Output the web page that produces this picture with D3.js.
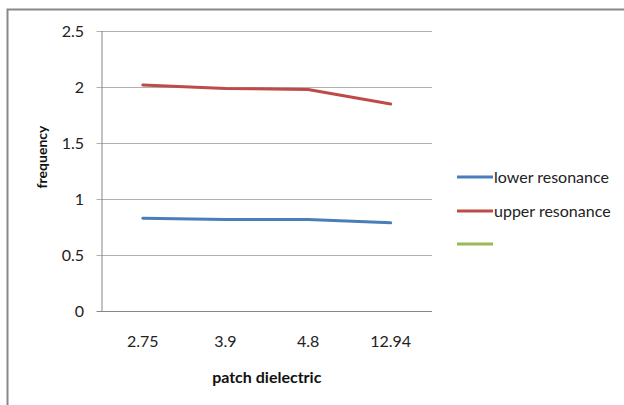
<!DOCTYPE html>
<html><head><meta charset="utf-8">
<script src="https://cdn.jsdelivr.net/npm/d3@7"></script>
<style>body{margin:0;background:#fff}svg{display:block}text{font-family:Lato,"Open Sans",sans-serif}</style>
</head><body>
<svg id="c" width="624" height="405"></svg>
<script>
const categories = ["2.75", "3.9", "4.8", "12.94"];
const lowerResonance = [0.83, 0.82, 0.82, 0.79];
const upperResonance = [2.02, 1.99, 1.98, 1.85];
const yTicks = [0, 0.5, 1, 1.5, 2, 2.5];
const seriesNames = ["lower resonance", "upper resonance", ""];
const seriesColors = ["#4A7EBB", "#BE4B48", "#98B954"];

const svg = d3.select("#c");
// outer chart frame
svg.append("path").attr("d", "M7.5,405 V9.5 H624").attr("fill", "none").attr("stroke", "#888").attr("stroke-width", 2);

const pLeft = 101.5, pRight = 432, pTop = 31.3, pBottom = 311.3;
const x = d3.scaleBand().domain(categories).range([pLeft, pRight]);
const y = d3.scaleLinear().domain([0, 2.5]).range([pBottom, pTop]);

// gridlines
svg.append("g").selectAll("line").data(yTicks).join("line")
  .attr("x1", pLeft - 5).attr("x2", pRight)
  .attr("y1", d => Math.round(y(d)) + 0.5).attr("y2", d => Math.round(y(d)) + 0.5)
  .attr("stroke", d => d === 0 ? "#868686" : "#b0b0b0").attr("stroke-width", 1);
// y axis line
svg.append("line").attr("x1", pLeft + 0.5).attr("x2", pLeft + 0.5)
  .attr("y1", Math.round(pTop)).attr("y2", Math.round(pBottom) + 0.5).attr("stroke", "#868686");

// y labels
svg.append("g").selectAll("text").data(yTicks).join("text")
  .attr("x", 84).attr("y", d => y(d)).attr("dy", "0.35em").attr("text-anchor", "end")
  .attr("font-size", 16).attr("fill", "#222").text(d => d);
// x labels
svg.append("g").selectAll("text").data(categories).join("text")
  .attr("x", d => x(d) + x.bandwidth() / 2).attr("y", 341).attr("dy", "0.35em").attr("text-anchor", "middle")
  .attr("font-size", 16).attr("fill", "#222").text(d => d);

// titles
svg.append("text").attr("x", (pLeft + pRight) / 2).attr("y", 377).attr("dy", "0.35em")
  .attr("text-anchor", "middle").attr("font-size", 16).attr("font-weight", "bold").attr("fill", "#111").text("patch dielectric");
svg.append("text").attr("transform", "translate(42,157) rotate(-90)").attr("dy", "0.35em")
  .attr("text-anchor", "middle").attr("font-size", 14).attr("font-weight", "bold").attr("fill", "#111").text("frequency");

const line = d3.line().x((d, i) => x(categories[i]) + x.bandwidth() / 2).y(d => y(d));
[lowerResonance, upperResonance].forEach((s, i) => {
  svg.append("path").datum(s).attr("d", line).attr("fill", "none")
    .attr("stroke", seriesColors[i]).attr("stroke-width", 3).attr("stroke-linejoin", "round").attr("stroke-linecap", "round");
});

// legend
const ly = [177, 211, 244];
seriesNames.forEach((n, i) => {
  svg.append("line").attr("x1", 457).attr("x2", 493).attr("y1", ly[i]).attr("y2", ly[i])
    .attr("stroke", seriesColors[i]).attr("stroke-width", 3);
  svg.append("text").attr("x", 494).attr("y", ly[i]).attr("dy", "0.35em")
    .attr("font-size", 16).attr("fill", "#222").text(n);
});
</script>
</body></html>
